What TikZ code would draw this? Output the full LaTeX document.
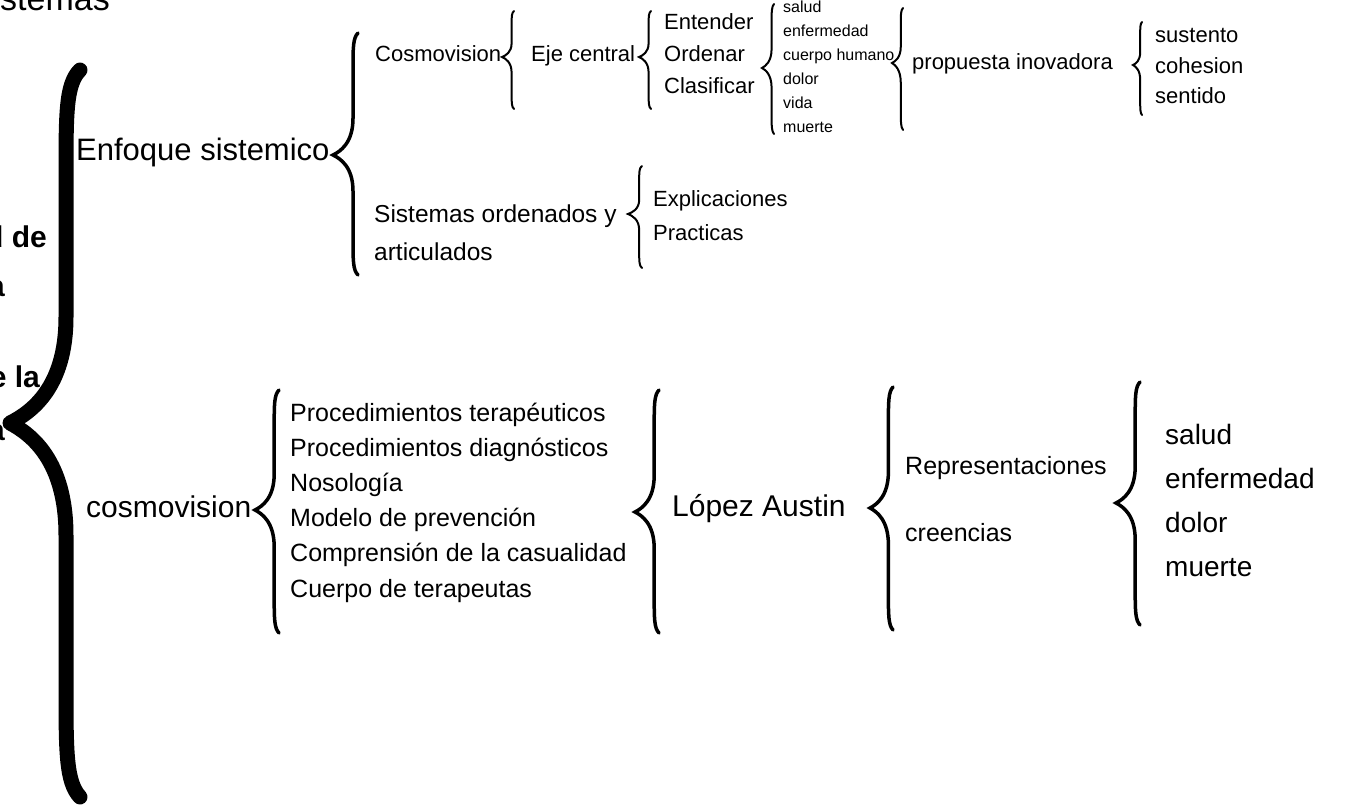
\documentclass[tikz,border=0pt]{standalone}
\usepackage{fontspec}
\setmainfont{Liberation Sans}
\usepackage{tikz}

\tikzset{
  big/.style={font=\fontsize{31}{36}\selectfont, anchor=base west, inner sep=0pt},
  mid/.style={font=\fontsize{22}{26}\selectfont, anchor=base west, inner sep=0pt},
  tiny/.style={font=\fontsize{16}{19}\selectfont, anchor=base west, inner sep=0pt},
  lst/.style={font=\fontsize{25}{30}\selectfont, anchor=base west, inner sep=0pt},
  cut/.style={font=\bfseries\fontsize{30}{34}\selectfont, anchor=base east, inner sep=0pt},
  thinbrace/.style={line width=2pt, line cap=round},
  brace/.style={line width=3.5pt, line cap=round},
  hugebrace/.style={line width=15pt, line cap=round, line join=round}
}

\newcommand{\curly}[6][thinbrace]{%
  \pgfmathsetmacro\armx{#2+0.8*(#3-#2)}%
  \pgfmathsetmacro\bendx{#2+0.3*(#3-#2)}%
  \pgfmathsetmacro\hup{#5-#4}%
  \pgfmathsetmacro\hdn{#6-#5}%
  \draw[#1] (#3,#4) .. controls (\armx,{#4+0.04*\hup}) and (\armx,{#4+0.12*\hup}) .. (\armx,{#4+0.3*\hup})
    -- (\armx,{#5-0.3*\hup})
    .. controls (\armx,{#5-0.1*\hup}) and (\bendx,{#5-0.03*\hup}) .. (#2,#5)
    .. controls (\bendx,{#5+0.03*\hdn}) and (\armx,{#5+0.1*\hdn}) .. (\armx,{#5+0.3*\hdn})
    -- (\armx,{#6-0.3*\hdn})
    .. controls (\armx,{#6-0.12*\hdn}) and (\armx,{#6-0.04*\hdn}) .. (#3,#6);
}

\begin{document}
\begin{tikzpicture}[x=1pt, y=-1pt]
\useasboundingbox[fill=white] (0,0) rectangle (1350,807);

\node (title) at (110,10) [cut, font=\fontsize{34}{38}\selectfont] {Sistemas};
\node (cut1) at (47,247) [cut] {d de};
\node (cut2) at (5,296) [cut] {a};
\node (cut3) at (40,387) [cut] {de la};
\node (cut4) at (5,440) [cut] {a};

\curly[hugebrace]{10}{80}{70}{423}{797}

\node (enfoque) at (76,160.5) [big] {Enfoque sistemico};
\curly[brace]{333}{358}{33}{155}{275}

\node (cosmo) at (375,61) [mid] {Cosmovision};
\curly{502}{514}{11}{57}{109}
\node (eje) at (531,61) [mid] {Eje central};
\curly{639}{651}{11}{57}{109}
\node (entender) at (664,29) [mid] {Entender};
\node (ordenar) at (664,61) [mid] {Ordenar};
\node (clasificar) at (664,93) [mid] {Clasificar};
\curly{762}{774}{4}{68}{134}
\node (salud1) at (783,12) [tiny] {salud};
\node (enferm1) at (783,36) [tiny] {enfermedad};
\node (cuerpo1) at (783,60) [tiny] {cuerpo humano};
\node (dolor1) at (783,84) [tiny] {dolor};
\node (vida1) at (783,108) [tiny] {vida};
\node (muerte1) at (783,132) [tiny] {muerte};
\curly{892}{903}{8}{63}{130}
\node (propuesta) at (912,69) [mid] {propuesta inovadora};
\curly{1133}{1142}{22}{65}{115}
\node (sustento) at (1155,42) [mid] {sustento};
\node (cohesion) at (1155,73) [mid] {cohesion};
\node (sentido) at (1155,103) [mid] {sentido};

\node (sist) at (374,222) [lst, font=\fontsize{24.5}{30}\selectfont] {Sistemas ordenados y};
\node (artic) at (374,260) [lst, font=\fontsize{24.5}{30}\selectfont] {articulados};
\curly{628}{642}{166}{214}{268}
\node (explic) at (653,206) [mid] {Explicaciones};
\node (pract) at (653,240) [mid] {Practicas};

\node (cosmo2) at (86,517) [big, font=\fontsize{30}{36}\selectfont] {cosmovision};
\curly[brace]{255}{279}{390}{510}{633}
\node (proc1) at (290,421) [lst] {Procedimientos terapéuticos};
\node (proc2) at (290,456) [lst] {Procedimientos diagnósticos};
\node (noso) at (290,491) [lst] {Nosología};
\node (modelo) at (290,526) [lst] {Modelo de prevención};
\node (compr) at (290,561) [lst] {Comprensión de la casualidad};
\node (cuerpo2) at (290,597) [lst] {Cuerpo de terapeutas};
\curly[brace]{635}{659}{390}{512}{633}
\node (lopez) at (672,516) [big, font=\fontsize{30}{36}\selectfont] {López Austin};
\curly[brace]{870}{893}{387}{508}{630}
\node (repr) at (905,474) [lst] {Representaciones};
\node (creen) at (905,541) [lst] {creencias};
\curly[brace]{1116}{1140}{382}{503}{625}
\node (salud2) at (1165,444) [big, font=\fontsize{28}{34}\selectfont] {salud};
\node (enferm2) at (1165,488) [big, font=\fontsize{28}{34}\selectfont] {enfermedad};
\node (dolor2) at (1165,532) [big, font=\fontsize{28}{34}\selectfont] {dolor};
\node (muerte2) at (1165,576) [big, font=\fontsize{28}{34}\selectfont] {muerte};
\end{tikzpicture}
\end{document}
